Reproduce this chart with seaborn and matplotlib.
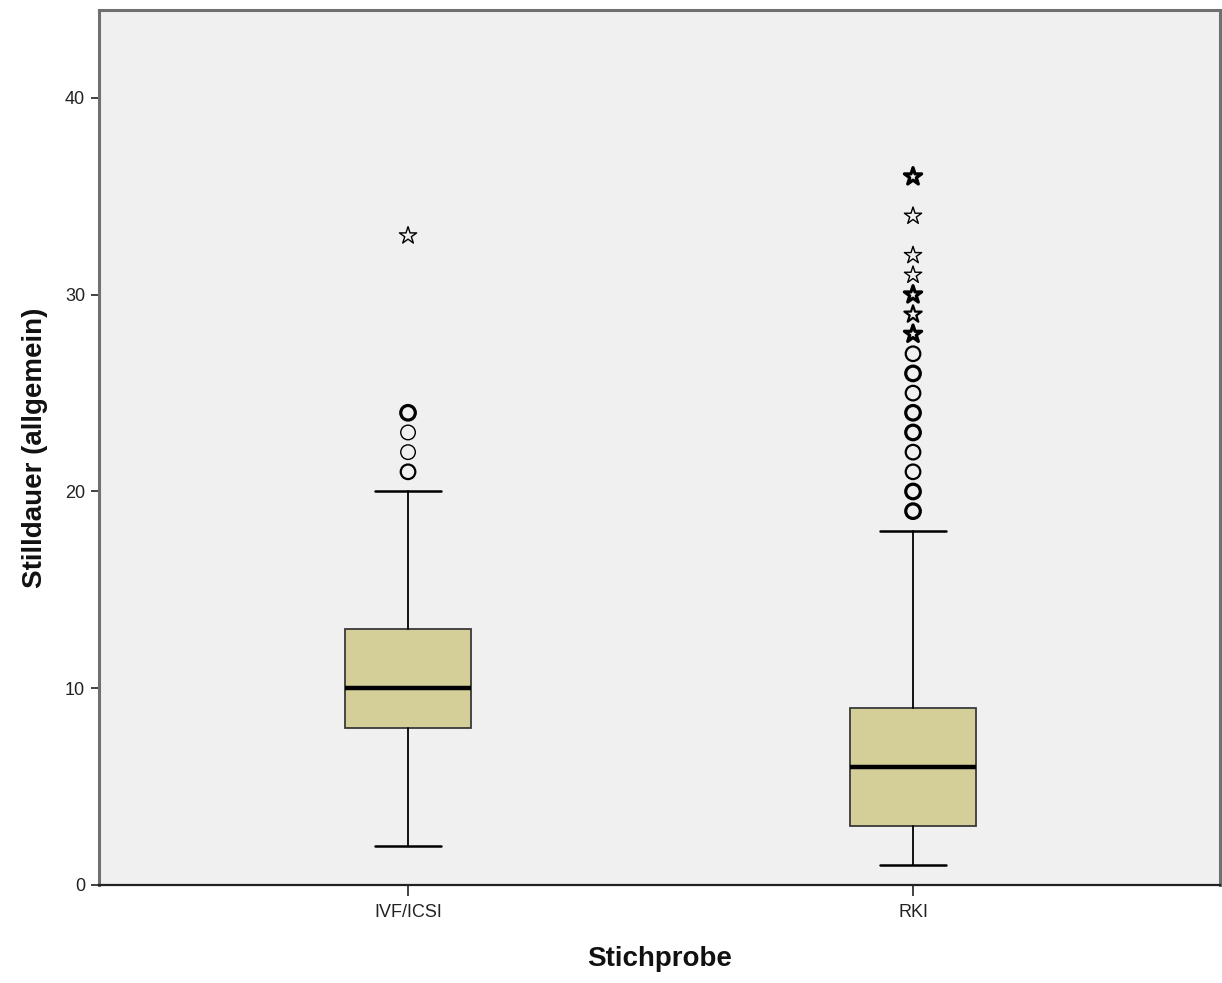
import matplotlib
matplotlib.use("Agg")
import matplotlib.pyplot as plt
import seaborn as sns
import pandas as pd

# Groups and five-number summaries of breastfeeding duration
groups = ["IVF/ICSI", "RKI"]
whisker_low = [2, 1]
q1 = [8, 3]
median = [10, 6]
q3 = [13, 9]
whisker_high = [20, 18]

# Outliers (circles) and extreme values (stars) per group, with case counts
out_group = ["IVF/ICSI"] * 4 + ["RKI"] * 9
out_value = [21, 22, 23, 24, 19, 20, 21, 22, 23, 24, 25, 26, 27]
out_count = [2, 1, 1, 3, 3, 3, 2, 2, 3, 3, 2, 3, 2]

ext_group = ["IVF/ICSI"] + ["RKI"] * 7
ext_value = [33, 28, 29, 30, 31, 32, 34, 36]
ext_count = [1, 3, 2, 3, 1, 1, 1, 3]

sns.set_style("ticks", {"axes.facecolor": "#F0F0F0"})
plt.rcParams["font.family"] = ["Liberation Sans", "DejaVu Sans"]

fig = plt.figure(figsize=(12.22, 9.83), dpi=100)
ax = fig.add_axes([0.081, 0.0997, 0.9174, 0.8901])
ax.set_facecolor("#F0F0F0")

pos = {g: i for i, g in enumerate(groups)}
stats = [
    dict(whislo=whisker_low[i], q1=q1[i], med=median[i], q3=q3[i],
         whishi=whisker_high[i], fliers=[], label=g)
    for i, g in enumerate(groups)
]
ax.bxp(stats, positions=[pos[g] for g in groups], widths=0.25,
       patch_artist=True, showfliers=False,
       boxprops=dict(facecolor="#D4CF98", edgecolor="#3a3a3a", linewidth=1.3),
       medianprops=dict(color="black", linewidth=3.2),
       whiskerprops=dict(color="black", linewidth=1.3),
       capprops=dict(color="black", linewidth=1.8),
       capwidths=0.13)

def lw(n):
    return {1: 1.0, 2: 1.6, 3: 2.3}[n]

outl = pd.DataFrame({"x": [pos[g] for g in out_group], "y": out_value, "n": out_count})
for n, sub in outl.groupby("n"):
    sns.scatterplot(data=sub, x="x", y="y", ax=ax, marker="o", s=110,
                    facecolor="none", edgecolor="black", linewidth=lw(n),
                    legend=False, zorder=3)

ext = pd.DataFrame({"x": [pos[g] for g in ext_group], "y": ext_value, "n": ext_count})
for n, sub in ext.groupby("n"):
    sns.scatterplot(data=sub, x="x", y="y", ax=ax, marker="*", s=170,
                    facecolor="none", edgecolor="black", linewidth=lw(n),
                    legend=False, zorder=3)

ax.set_xlim(-0.612, 1.608)
ax.set_ylim(0, 44.47)
ax.set_xticks([0, 1])
ax.set_xticklabels(groups)
ax.set_yticks([0, 10, 20, 30, 40])

ax.tick_params(axis="y", direction="out", length=6, width=1.2, colors="#222222",
               labelsize=13, pad=4)
ax.tick_params(axis="x", direction="out", length=8, width=1.2, colors="#222222",
               labelsize=13, pad=6)

for side in ["top", "right", "left"]:
    ax.spines[side].set_visible(True)
    ax.spines[side].set_color("#707070")
    ax.spines[side].set_linewidth(2.2)
ax.spines["bottom"].set_color("#222222")
ax.spines["bottom"].set_linewidth(1.6)

ax.set_xlabel("Stichprobe", fontsize=20, fontweight="bold", labelpad=18, color="#111111")
ax.set_ylabel("Stilldauer (allgemein)", fontsize=20, fontweight="bold", labelpad=12, color="#111111")

fig.savefig("out.png", dpi=100, facecolor="white")
